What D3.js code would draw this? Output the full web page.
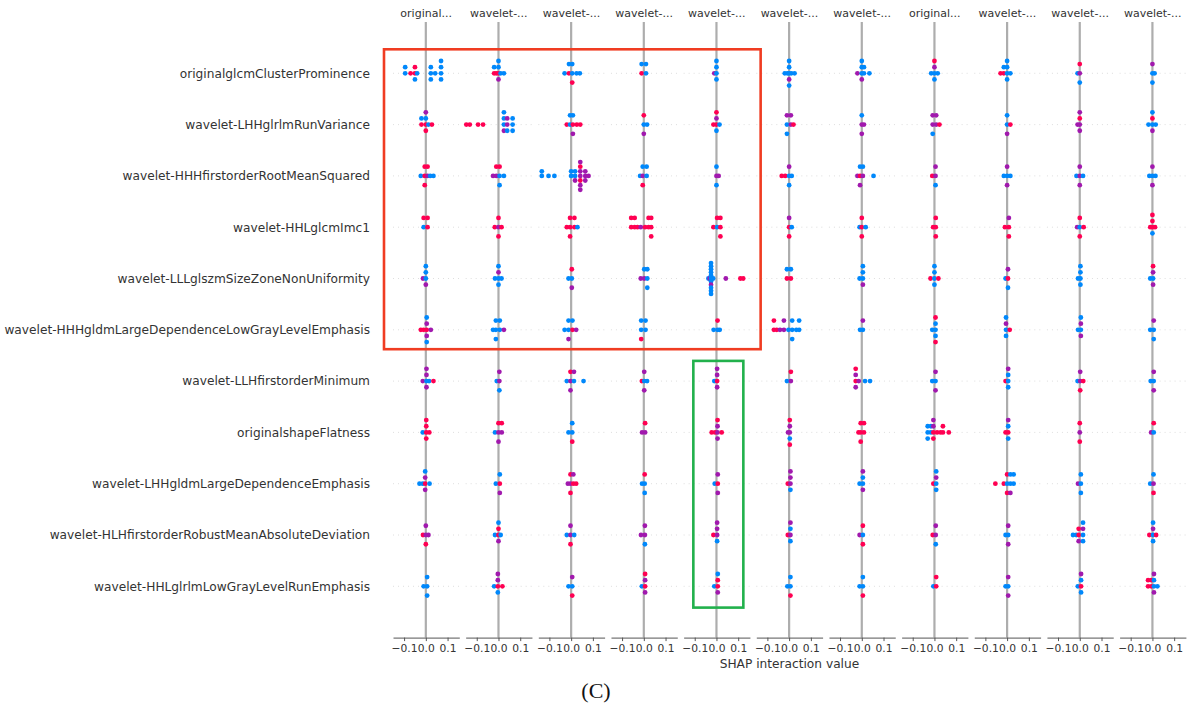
<!DOCTYPE html>
<html>
<head>
<meta charset="utf-8">
<script src="https://cdn.jsdelivr.net/npm/d3@7"></script>
<style>
    body { margin: 0; background: #ffffff; }
    svg { display: block; }
</style>
</head>
<body>
<svg id="chart" width="1200" height="713"></svg>
<script>
// feature order: rows top to bottom, columns left to right use the same order
var features = [
    "originalglcmClusterProminence",
    "wavelet-LHHglrlmRunVariance",
    "wavelet-HHHfirstorderRootMeanSquared",
    "wavelet-HHLglcmImc1",
    "wavelet-LLLglszmSizeZoneNonUniformity",
    "wavelet-HHHgldmLargeDependenceLowGrayLevelEmphasis",
    "wavelet-LLHfirstorderMinimum",
    "originalshapeFlatness",
    "wavelet-LHHgldmLargeDependenceEmphasis",
    "wavelet-HLHfirstorderRobustMeanAbsoluteDeviation",
    "wavelet-HHLglrlmLowGrayLevelRunEmphasis"
];
var xTicks = [-0.1, 0.0, 0.1];
var xLimits = [-0.151, 0.154];
var xLabel = "SHAP interaction value";
var caption = "(C)";

// one string per cell: SHAP value in hundredths + feature value code (b low ... r high)
var row01 = ["-9.5b -9.5b -7r -5r -5r -5b -4b 2.3b 2.3b 2.3b 4.3b 7b 7b 7b 7b", "-2r -2b -1r 0r 0b 0p 0b 1b 2.5b", "-3b -1r -1b 0.5b 0.5b 0.5r 2.5b 4b", "-1r -1b 1b 1b", "-1p 0b 0b 0b 0b", "-2b -0.8b 0b 0b 0p 0b 0b 1b 2.5b", "-2p 0b 0b 0p 0b 1b 1b 3.5b", "-1.5b 0b 0p 0b 0r 1.5b", "-3r -1.5r -1.5b 0b 0b 0b 0b 1.5b", "-1b 0p 0r 0b", "0b 0p 0b 1b"];
var row02 = ["-2r -2b 0r 0b 0r 0p 1.2b 2.8r", "-14.8r -13.2r -9.4r -7.1r 2.5b 2.5b 2.5p 2.5b 4p 4p 4b 6.5b 6.5b 6.5b", "-2r -0.5b -0.5b 0.8r 0.8b 0.8p 2.6r 4.2r", "0b 0r 0p 1.5b", "-1.4r 0r 0p 0b 0r 1.4b", "-1b -1p -1b 0.8p 0.8p 2r", "0p 0b 0p 1p", "-0.8p -0.8p -0.8b 0.8p 0.8p 2.3r", "0b 0b 0p 1.5r", "-1p 0p 0r 0p 0p", "-1.8b 0b 0r 0p 0b 1.5b"];
var row03 = ["-2.3b -0.5r -0.5r -0.5r 0.8p 0.8r 2b 3.5b", "-2.5p -1p -1r 0.5b 0.5r 0.5b 2.5b", "-13.5b -13.5b -10.4b -7.7b 0b 0b 1.8b 1.8b 1.8p 4.2p 4.2p 4.2r 4.2r 4.2p 4.2p 4.2p 6.5p 6.5p 6.5p 8p", "-1.7b -0.5p -0.5b -0.5r 1.3b 1.3b", "0p 0b 0b 1p", "-3.4r -1.8r 0b 0p 0b 1.2b", "-2p -0.8r -0.8b -0.8p 0.5p 0.5b 5.4b", "-1r 0.5p 0.5p 0.5b", "-1.5b 0b 0p 0p 1.5b", "-1.5b 0p 0p 0p 1.5b", "-1.4b 0b 0p 0p 1.4b"];
var row04 = ["-1b -1r 0.8r 0.8r", "-1.7r 0p 0r 0r 1.4r", "-2r -0.5r -0.5r -0.5r 1.5r 1.5r 2.9b", "-5.8r -5.8r -4.2r -4.2r -2.9r -1.4p 0.6r 2.2r 2.2r 3.4r 3.4r 3.4r", "-1.4r 0.3b 0.3r 1.8r 1.8r 1.8r", "0r 0p 0r 1.2b", "-1b 0r 0r 0r 1.8b", "-0.6r 0.6r 0.6r 0.6r", "-1r 0.8r 0.8p 0.8r", "-1.2p 0b 0r 0r 1.8r", "-1r 0r 0r 0b 0r 1.2r"];
var row05 = ["-1.3p 0b 0b 0p 0b", "-1.6b 0b 0p 0b 0b 1.4b", "-1.2b 0.3b 0.3r 0.3p", "-1.4p 0.2p 0.2b 1.6b 1.6b 1.6b", "-3.7b -3.1p -2.5b -2.5b -2.5b -2.5b -2.5p -2.5b -2.5b -2.5b -2.5b -2.5b -2.5b -1.5b 4.3p 11r 12.3r", "-1r -1b 0.8r 0.8b", "-1b 0.5b 0.5b 0.5p 0.5b", "-1.8r 0b 0b 0b 0b 1.8r", "-0.7b 0.4r 0.4p 0.4b", "-0.8b 0.3b 0.3b 0.3b 0.3b", "-1b 0.3b 0.3p 0.3p 0.3r"];
var row06 = ["-2.3r -1r 0.4r 0.4p 0.4p 0.4b 0.4b 2.3p", "-2.5b -1.2b -1.2b -1.2b 0.6b 0.6b 2.5p", "-3b -1.2b -1.2b -1.2p 0.6r 0.6b 2.3p", "-1.2b -1.2b -1.2r 0.8b 0.8b", "-1.3b 0.5b 0.5r 1.5b", "-7r -7r -5.7r -4.2p -2.4p -2.4p -0.3b 1.4b 1.4b 1.4b 3.3b 4.6b 4.6b", "-0.8b 0.5b 0.5p", "-1b 0.5b 0.5b 0.5b 0.5r 0.5r", "-0.5b -0.5p -0.5b -0.5b 1.2r", "-0.8b 0.5b 0.5p 0.5p 0.5b", "-1b 0.6b 0.6p 0.6b"];
var row07 = ["-1.4p 0.3b 0.3p 0.3p 0.3p 1.5b 3.5r", "-0.8b 0.4p 0.4p 0.4b", "-2b -0.3p -0.3r -0.3p 1.3b 1.3p 5.7b", "-0.9r 0.2b 0.2p 0.2p 1.5b", "-1b 0.3r 0.3p 0.3p 0.3p", "-1b 0.8p 0.8r", "-2.8r -2.8p -2.8p -2.8r -1.4p 1.5b 3.8b", "-1b 0.5b 0.5p 0.5p", "-0.7r 0.5b 0.5b 0.5b 0.5p", "-1b 0.2p 0.2p 0.2r 1.6r", "-0.8b 0.6b 0.6p 0.6p"];
var row08 = ["-1.4b 0.2r 0.2r 0.2r 0.2r 1.6r", "-1.6b 0p 0r 0p 1.5p 1.5r", "-1.2b 0.5b 0.5b 0.5r", "-0.8p 0.6p 0.6r", "-2.2r -0.6r 0.5p 0.5p 0.5p 0.5r 2.4r", "-0.5p 0.3p 0.3p 0.3b 0.3r 0.3r", "-1.5r -0.5r -0.5r -0.5r 1r 1r", "-3.1b -3.1b -3.1b -1.6b -1.6b -0.5r -0.5p -0.5r -0.5p 1.2r 2.8r 3.9r 3.9r 6.6r", "-0.7r 0.5r 0.5b 0.5b 0.5p", "0p 0r 0r", "-0.6p 0.6b 0.6r"];
var row09 = ["-2.9b -1.4b -0.3r -0.3p -0.3p -0.3b 1.7b", "-1.2b 0.6r 0.6b 0.6p", "-1.5p -0.3p -0.3r -0.3r 1r 1p 2.3r", "-0.8b 0.4b 0.4r 0.4b", "-0.8b 0.6r 0.6p 0.6p", "-0.6r 0.6p 0.6p 0.6b 0.6p", "-1b 0.5b 0.5b 0.5p 0.5p", "-0.5r 0.8b 0.8p 0.8b 0.8b", "-5.4r -1.5r 0b 0r 0r 1.5b 1.5b 1.5p 3b 3b", "-0.8p 0.5b 0.5b 0.5b", "-1b 0.5p 0.5b 0.5r"];
var row10 = ["-1.3r 0p 0p 0r 1.2p", "-1.6b 0r 0r 0p 0b 1b", "-2b -0.3p -0.3p -0.3r 1.4b", "-1.3p 0.5p 0.5p 0.5b", "-1.4r 0.3p 0.3p 0.3b 0.3p", "-0.6r 0.6p 0.6b 0.6b 0.6p", "-1p 0.5b 0.5r 0.5r", "-0.8r 0.6p 0.6p 0.6b", "-0.7b 0.5b 0.5p 0.5p", "-3.1b -1.6b -0.5r -0.5r -0.5p 1.5b 1.5p 1.5b 1.5b", "-1.4r 0.3b 0.3p 0.3b 0.3b 1.7r"];
var row11 = ["-1b 0.6b 0.6b 0.6b", "-2b -0.3r -0.3p -0.3b -0.3p 1.8r", "-1.2b 0.5b 0.5p 0.5r", "-0.9b 0.6r 0.6p 0.6p 0.6r", "-1b 0.6r 0.6r 0.6p 0.6b", "-0.8b 0.6b 0.6b 0.6r", "-1b 0.5b 0.5b 0.5r", "-0.5b 0.8r 0.8r", "-0.7b 0.5b 0.5p 0.5p", "-0.9b 0.6r 0.6b 0.6b 0.6p", "-2r -2r -0.5r -0.5r 0.7b 0.7b 0.7p 0.7p 2.3b"];
var cellRows = [row01, row02, row03, row04, row05, row06, row07, row08, row09, row10, row11];

var colorCodes = { b: 0, i: 0.3, p: 0.5, m: 0.7, r: 1 };

// highlight rectangles drawn over the figure (row / column index ranges)
var highlightBoxes = [
    { rows: [0, 5], cols: [0, 4], pad: [9, 24, 10.7, 19.4], color: "#f03c22" },
    { rows: [6, 10], cols: [4, 4], pad: [-9.7, 20.2, -6.6, 21.3], color: "#22b14c" }
];

var svg = d3.select("#chart");
var nRows = features.length;
var rowHeight = 0.4;

var band = d3.scaleBand()
    .domain(d3.range(features.length))
    .range([393, 1185.9])
    .paddingInner(0.0875)
    .paddingOuter(0);
var bw = band.bandwidth();

var x = d3.scaleLinear().domain(xLimits).range([0, bw]);
var y = d3.scaleLinear().domain([-1, nRows]).range([637.6, 22]);

function rowPos(i) { return nRows - 1 - i; }

// shap red_blue colormap (lch path from blue to red, darker in the middle)
var lScale = d3.scaleLinear().domain([0, 0.5, 1]).range([54, 40, 54]);
var cScale = d3.scaleLinear().domain([0, 1]).range([70, 90]);
var hScale = d3.scaleLinear().domain([0, 1]).range([266.93, 380.32]);
function redBlue(t) {
    return d3.hcl(hScale(t) % 360, cScale(t), lScale(t)).formatHex();
}

function shorten(text, limit) {
    return text.length > limit - 3 ? text.slice(0, limit - 3) + "..." : text;
}

// beeswarm offsets the same way the shap summary plot stacks its dots
function swarm(vals) {
    var nbins = 100;
    var lo = d3.min(vals), hi = d3.max(vals);
    var quant = vals.map(function (v) { return Math.round(nbins * (v - lo) / (hi - lo + 1e-8)); });
    var order = d3.range(vals.length).sort(function (a, b) { return (quant[a] - quant[b]) || (a - b); });
    var ys = vals.map(function () { return 0; });
    var layer = 0, lastBin = -1;
    order.forEach(function (k) {
        if (quant[k] !== lastBin) layer = 0;
        ys[k] = Math.ceil(layer / 2) * ((layer % 2) * 2 - 1);
        layer += 1;
        lastBin = quant[k];
    });
    var m = d3.max(ys, function (v) { return v + 1; });
    return ys.map(function (v) { return v * 0.9 * (rowHeight / m); });
}

function cellDots(rowIndex, colIndex) {
    var tokens = cellRows[rowIndex][colIndex].trim().split(/\s+/);
    var vals = tokens.map(function (t) { return parseFloat(t) / 100; });
    var offs = swarm(vals);
    return tokens.map(function (t, k) {
        return {
            row: rowIndex,
            value: vals[k],
            offset: offs[k],
            color: colorCodes[t.slice(-1)]
        };
    });
}

var panels = svg.selectAll(".panel")
    .data(features)
    .enter()
    .append("g")
    .attr("class", "panel")
    .attr("transform", function (d, i) { return "translate(" + band(i) + ",0)"; });

// dotted row guides
panels.selectAll(".rowLine")
    .data(features)
    .enter()
    .append("line")
    .attr("class", "rowLine")
    .attr("x1", 0)
    .attr("x2", bw)
    .attr("y1", function (d, i) { return y(rowPos(i)); })
    .attr("y2", function (d, i) { return y(rowPos(i)); })
    .style("stroke", "#d6d6d6")
    .attr("stroke-width", 0.8)
    .attr("stroke-dasharray", "1,4");

// zero line
panels.append("line")
    .attr("x1", x(0))
    .attr("x2", x(0))
    .attr("y1", y(nRows))
    .attr("y2", y(-1))
    .style("stroke", "#adadad")
    .attr("stroke-width", 2.2);

panels.each(function (colName, j) {
    var dots = [];
    for (var i = 0; i < nRows; i++) {
        dots = dots.concat(cellDots(i, j));
    }
    d3.select(this).selectAll(".dot")
        .data(dots)
        .enter()
        .append("circle")
        .attr("class", "dot")
        .attr("cx", function (d) { return x(d.value); })
        .attr("cy", function (d) { return y(rowPos(d.row) + d.offset); })
        .attr("r", 2.4)
        .style("fill", function (d) { return redBlue(d.color); });
});

// bottom axis of every panel
panels.append("g")
    .attr("class", "xAxis")
    .attr("transform", "translate(0," + y(-1) + ")")
    .each(function () {
        d3.select(this).call(d3.axisBottom(x)
            .tickValues(xTicks)
            .tickFormat(d3.format(".1f"))
            .tickSize(3.5)
            .tickSizeOuter(0)
            .tickPadding(3));
    });

svg.selectAll(".xAxis path, .xAxis line")
    .style("stroke", "#555555")
    .attr("stroke-width", 1);
svg.selectAll(".xAxis text")
    .attr("font-family", "'DejaVu Sans', sans-serif")
    .attr("font-size", "10.7px")
    .style("fill", "#333333");

// column titles
panels.append("text")
    .attr("x", bw / 2)
    .attr("y", 17.3)
    .attr("text-anchor", "middle")
    .attr("font-family", "'DejaVu Sans', sans-serif")
    .attr("font-size", "11px")
    .style("fill", "#333333")
    .text(function (d) { return shorten(d, 11); });

// feature names on the left
svg.append("g")
    .selectAll("text")
    .data(features)
    .enter()
    .append("text")
    .attr("x", band(0) - 23)
    .attr("y", function (d, i) { return y(rowPos(i)); })
    .attr("dy", "0.36em")
    .attr("text-anchor", "end")
    .attr("font-family", "'DejaVu Sans', sans-serif")
    .attr("font-size", "12.2px")
    .style("fill", "#333333")
    .text(function (d) { return d; });

// x label under the middle panel
svg.append("text")
    .attr("x", band(5) + bw / 2)
    .attr("y", 668)
    .attr("text-anchor", "middle")
    .attr("font-family", "'DejaVu Sans', sans-serif")
    .attr("font-size", "12.2px")
    .style("fill", "#333333")
    .text(xLabel);

svg.append("text")
    .attr("x", 596)
    .attr("y", 698)
    .attr("text-anchor", "middle")
    .attr("font-family", "'Liberation Serif', 'Times New Roman', serif")
    .attr("font-size", "22px")
    .style("fill", "#111111")
    .text(caption);

// highlight rectangles
svg.selectAll(".highlight")
    .data(highlightBoxes)
    .enter()
    .append("rect")
    .attr("class", "highlight")
    .attr("x", function (d) { return band(d.cols[0]) - d.pad[0]; })
    .attr("y", function (d) { return y(rowPos(d.rows[0])) - d.pad[1]; })
    .attr("width", function (d) { return band(d.cols[1]) + bw + d.pad[2] - (band(d.cols[0]) - d.pad[0]); })
    .attr("height", function (d) { return y(rowPos(d.rows[1])) + d.pad[3] - (y(rowPos(d.rows[0])) - d.pad[1]); })
    .style("fill", "none")
    .style("stroke", function (d) { return d.color; })
    .attr("stroke-width", 2.6);
</script>
</body>
</html>
